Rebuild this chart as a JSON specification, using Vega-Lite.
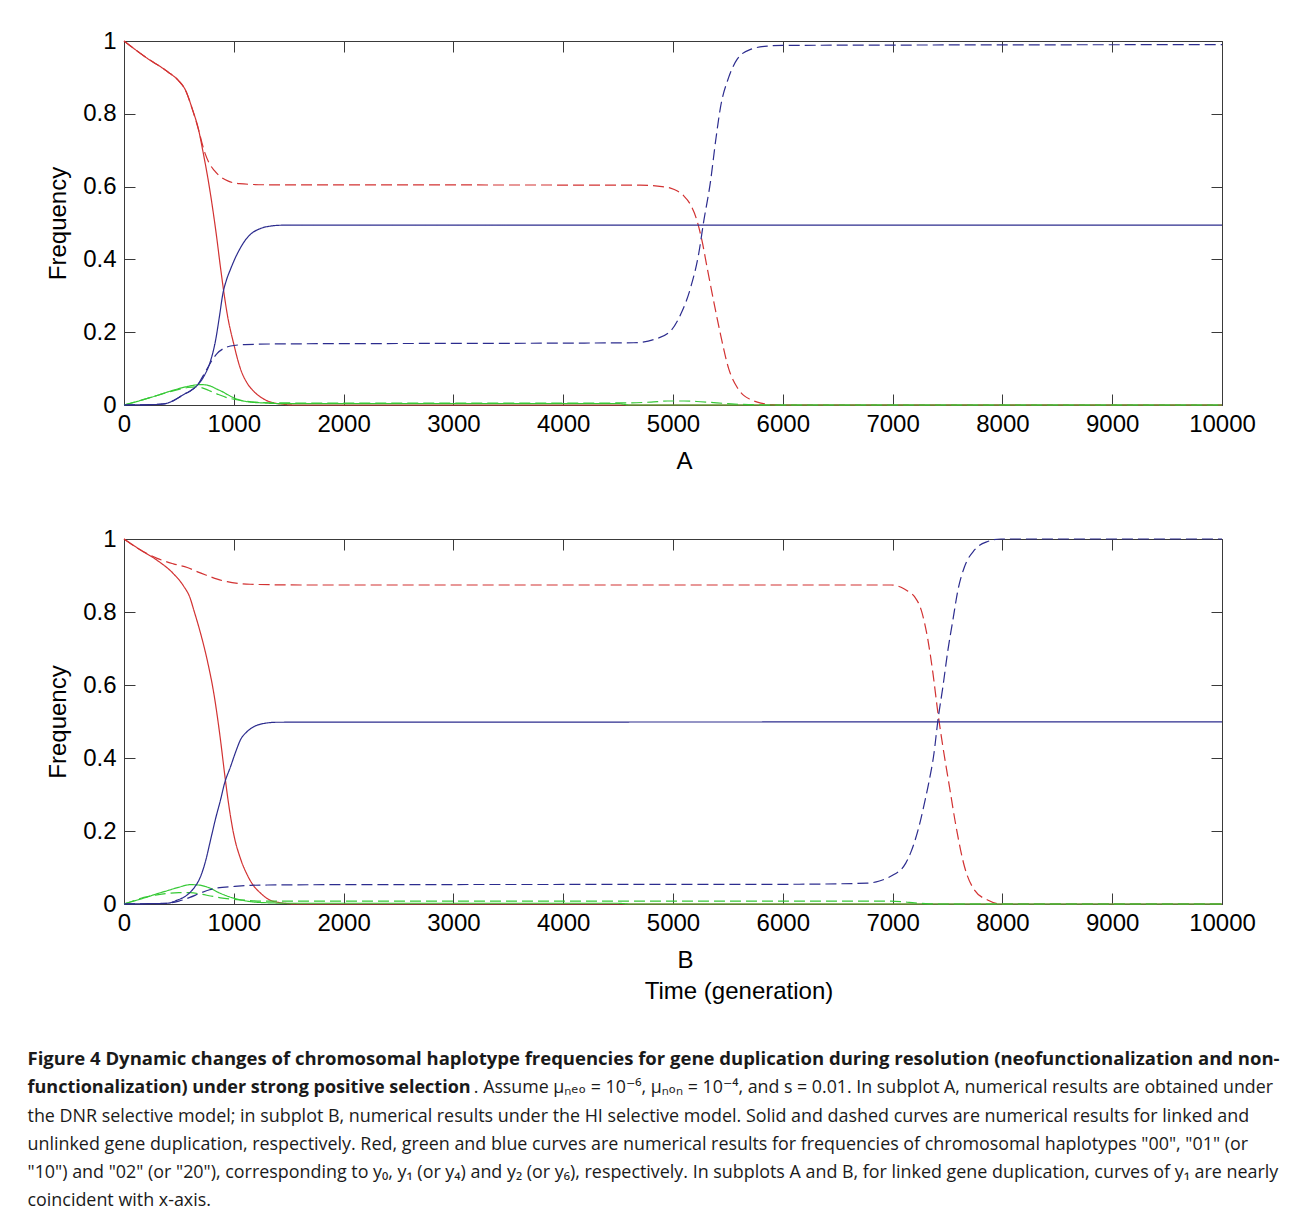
{
  "$schema": "https://vega.github.io/schema/vega-lite/v6.json",
  "background": "white",
  "padding": {"left": 27, "top": 28, "right": 0, "bottom": 0},
  "datasets": {
    "curves": [
      {"p":"A","c":"y0","k":"L","t":0,"f":1},{"p":"A","c":"y0","k":"L","t":200,"f":0.955},{"p":"A","c":"y0","k":"L","t":400,"f":0.915},{"p":"A","c":"y0","k":"L","t":500,"f":0.89},{"p":"A","c":"y0","k":"L","t":560,"f":0.865},{"p":"A","c":"y0","k":"L","t":620,"f":0.815},{"p":"A","c":"y0","k":"L","t":680,"f":0.755},{"p":"A","c":"y0","k":"L","t":720,"f":0.695},{"p":"A","c":"y0","k":"L","t":760,"f":0.63},{"p":"A","c":"y0","k":"L","t":800,"f":0.555},{"p":"A","c":"y0","k":"L","t":840,"f":0.47},{"p":"A","c":"y0","k":"L","t":880,"f":0.375},{"p":"A","c":"y0","k":"L","t":900,"f":0.33},{"p":"A","c":"y0","k":"L","t":940,"f":0.25},{"p":"A","c":"y0","k":"L","t":1000,"f":0.167},{"p":"A","c":"y0","k":"L","t":1060,"f":0.1},{"p":"A","c":"y0","k":"L","t":1122,"f":0.06},{"p":"A","c":"y0","k":"L","t":1180,"f":0.038},{"p":"A","c":"y0","k":"L","t":1243,"f":0.022},{"p":"A","c":"y0","k":"L","t":1300,"f":0.012},{"p":"A","c":"y0","k":"L","t":1362,"f":0.006},{"p":"A","c":"y0","k":"L","t":1450,"f":0.002},{"p":"A","c":"y0","k":"L","t":1550,"f":0},{"p":"A","c":"y0","k":"L","t":10000,"f":0},

      {"p":"A","c":"y0","k":"U","t":0,"f":1},{"p":"A","c":"y0","k":"U","t":200,"f":0.955},{"p":"A","c":"y0","k":"U","t":400,"f":0.915},{"p":"A","c":"y0","k":"U","t":500,"f":0.89},{"p":"A","c":"y0","k":"U","t":560,"f":0.865},{"p":"A","c":"y0","k":"U","t":620,"f":0.815},{"p":"A","c":"y0","k":"U","t":680,"f":0.755},{"p":"A","c":"y0","k":"U","t":710,"f":0.72},{"p":"A","c":"y0","k":"U","t":740,"f":0.69},{"p":"A","c":"y0","k":"U","t":775,"f":0.665},{"p":"A","c":"y0","k":"U","t":820,"f":0.645},{"p":"A","c":"y0","k":"U","t":880,"f":0.627},{"p":"A","c":"y0","k":"U","t":950,"f":0.615},{"p":"A","c":"y0","k":"U","t":1050,"f":0.608},{"p":"A","c":"y0","k":"U","t":1300,"f":0.605},{"p":"A","c":"y0","k":"U","t":4700,"f":0.604},{"p":"A","c":"y0","k":"U","t":4900,"f":0.6},{"p":"A","c":"y0","k":"U","t":4977,"f":0.596},{"p":"A","c":"y0","k":"U","t":5040,"f":0.588},{"p":"A","c":"y0","k":"U","t":5097,"f":0.575},{"p":"A","c":"y0","k":"U","t":5160,"f":0.55},{"p":"A","c":"y0","k":"U","t":5220,"f":0.505},{"p":"A","c":"y0","k":"U","t":5265,"f":0.45},{"p":"A","c":"y0","k":"U","t":5311,"f":0.377},{"p":"A","c":"y0","k":"U","t":5370,"f":0.286},{"p":"A","c":"y0","k":"U","t":5432,"f":0.195},{"p":"A","c":"y0","k":"U","t":5507,"f":0.1},{"p":"A","c":"y0","k":"U","t":5585,"f":0.048},{"p":"A","c":"y0","k":"U","t":5650,"f":0.025},{"p":"A","c":"y0","k":"U","t":5706,"f":0.015},{"p":"A","c":"y0","k":"U","t":5800,"f":0.005},{"p":"A","c":"y0","k":"U","t":5900,"f":0.001},{"p":"A","c":"y0","k":"U","t":6000,"f":0},{"p":"A","c":"y0","k":"U","t":10000,"f":0},

      {"p":"A","c":"y1","k":"L","t":0,"f":0},{"p":"A","c":"y1","k":"L","t":100,"f":0.008},{"p":"A","c":"y1","k":"L","t":200,"f":0.017},{"p":"A","c":"y1","k":"L","t":300,"f":0.026},{"p":"A","c":"y1","k":"L","t":400,"f":0.036},{"p":"A","c":"y1","k":"L","t":500,"f":0.045},{"p":"A","c":"y1","k":"L","t":580,"f":0.051},{"p":"A","c":"y1","k":"L","t":650,"f":0.055},{"p":"A","c":"y1","k":"L","t":700,"f":0.056},{"p":"A","c":"y1","k":"L","t":750,"f":0.055},{"p":"A","c":"y1","k":"L","t":788,"f":0.052},{"p":"A","c":"y1","k":"L","t":850,"f":0.043},{"p":"A","c":"y1","k":"L","t":900,"f":0.036},{"p":"A","c":"y1","k":"L","t":940,"f":0.029},{"p":"A","c":"y1","k":"L","t":1000,"f":0.02},{"p":"A","c":"y1","k":"L","t":1061,"f":0.013},{"p":"A","c":"y1","k":"L","t":1150,"f":0.008},{"p":"A","c":"y1","k":"L","t":1250,"f":0.006},{"p":"A","c":"y1","k":"L","t":1400,"f":0.004},{"p":"A","c":"y1","k":"L","t":4500,"f":0.004},{"p":"A","c":"y1","k":"L","t":4600,"f":0},{"p":"A","c":"y1","k":"L","t":10000,"f":0},

      {"p":"A","c":"y1","k":"U","t":0,"f":0},{"p":"A","c":"y1","k":"U","t":100,"f":0.008},{"p":"A","c":"y1","k":"U","t":200,"f":0.017},{"p":"A","c":"y1","k":"U","t":300,"f":0.026},{"p":"A","c":"y1","k":"U","t":400,"f":0.035},{"p":"A","c":"y1","k":"U","t":500,"f":0.043},{"p":"A","c":"y1","k":"U","t":580,"f":0.048},{"p":"A","c":"y1","k":"U","t":650,"f":0.05},{"p":"A","c":"y1","k":"U","t":700,"f":0.048},{"p":"A","c":"y1","k":"U","t":750,"f":0.043},{"p":"A","c":"y1","k":"U","t":788,"f":0.038},{"p":"A","c":"y1","k":"U","t":850,"f":0.03},{"p":"A","c":"y1","k":"U","t":940,"f":0.02},{"p":"A","c":"y1","k":"U","t":1000,"f":0.016},{"p":"A","c":"y1","k":"U","t":1100,"f":0.011},{"p":"A","c":"y1","k":"U","t":1200,"f":0.008},{"p":"A","c":"y1","k":"U","t":1400,"f":0.006},{"p":"A","c":"y1","k":"U","t":2000,"f":0.005},{"p":"A","c":"y1","k":"U","t":4000,"f":0.005},{"p":"A","c":"y1","k":"U","t":4600,"f":0.006},{"p":"A","c":"y1","k":"U","t":4800,"f":0.008},{"p":"A","c":"y1","k":"U","t":4950,"f":0.011},{"p":"A","c":"y1","k":"U","t":5100,"f":0.011},{"p":"A","c":"y1","k":"U","t":5250,"f":0.009},{"p":"A","c":"y1","k":"U","t":5400,"f":0.006},{"p":"A","c":"y1","k":"U","t":5530,"f":0.003},{"p":"A","c":"y1","k":"U","t":5700,"f":0.001},{"p":"A","c":"y1","k":"U","t":5850,"f":0},{"p":"A","c":"y1","k":"U","t":10000,"f":0},

      {"p":"A","c":"y2","k":"L","t":0,"f":0},{"p":"A","c":"y2","k":"L","t":250,"f":0.001},{"p":"A","c":"y2","k":"L","t":364,"f":0.003},{"p":"A","c":"y2","k":"L","t":450,"f":0.012},{"p":"A","c":"y2","k":"L","t":545,"f":0.029},{"p":"A","c":"y2","k":"L","t":610,"f":0.04},{"p":"A","c":"y2","k":"L","t":667,"f":0.054},{"p":"A","c":"y2","k":"L","t":730,"f":0.08},{"p":"A","c":"y2","k":"L","t":788,"f":0.121},{"p":"A","c":"y2","k":"L","t":833,"f":0.176},{"p":"A","c":"y2","k":"L","t":870,"f":0.245},{"p":"A","c":"y2","k":"L","t":900,"f":0.305},{"p":"A","c":"y2","k":"L","t":935,"f":0.345},{"p":"A","c":"y2","k":"L","t":970,"f":0.373},{"p":"A","c":"y2","k":"L","t":1015,"f":0.405},{"p":"A","c":"y2","k":"L","t":1061,"f":0.432},{"p":"A","c":"y2","k":"L","t":1105,"f":0.453},{"p":"A","c":"y2","k":"L","t":1152,"f":0.469},{"p":"A","c":"y2","k":"L","t":1220,"f":0.482},{"p":"A","c":"y2","k":"L","t":1304,"f":0.49},{"p":"A","c":"y2","k":"L","t":1450,"f":0.494},{"p":"A","c":"y2","k":"L","t":10000,"f":0.494},

      {"p":"A","c":"y2","k":"U","t":0,"f":0},{"p":"A","c":"y2","k":"U","t":250,"f":0.001},{"p":"A","c":"y2","k":"U","t":364,"f":0.003},{"p":"A","c":"y2","k":"U","t":450,"f":0.012},{"p":"A","c":"y2","k":"U","t":545,"f":0.029},{"p":"A","c":"y2","k":"U","t":610,"f":0.04},{"p":"A","c":"y2","k":"U","t":667,"f":0.054},{"p":"A","c":"y2","k":"U","t":697,"f":0.068},{"p":"A","c":"y2","k":"U","t":730,"f":0.085},{"p":"A","c":"y2","k":"U","t":758,"f":0.1},{"p":"A","c":"y2","k":"U","t":800,"f":0.122},{"p":"A","c":"y2","k":"U","t":849,"f":0.142},{"p":"A","c":"y2","k":"U","t":900,"f":0.154},{"p":"A","c":"y2","k":"U","t":970,"f":0.162},{"p":"A","c":"y2","k":"U","t":1100,"f":0.166},{"p":"A","c":"y2","k":"U","t":1500,"f":0.168},{"p":"A","c":"y2","k":"U","t":4000,"f":0.17},{"p":"A","c":"y2","k":"U","t":4640,"f":0.171},{"p":"A","c":"y2","k":"U","t":4827,"f":0.18},{"p":"A","c":"y2","k":"U","t":4977,"f":0.203},{"p":"A","c":"y2","k":"U","t":5070,"f":0.249},{"p":"A","c":"y2","k":"U","t":5160,"f":0.322},{"p":"A","c":"y2","k":"U","t":5233,"f":0.414},{"p":"A","c":"y2","k":"U","t":5280,"f":0.505},{"p":"A","c":"y2","k":"U","t":5342,"f":0.615},{"p":"A","c":"y2","k":"U","t":5388,"f":0.725},{"p":"A","c":"y2","k":"U","t":5432,"f":0.817},{"p":"A","c":"y2","k":"U","t":5507,"f":0.9},{"p":"A","c":"y2","k":"U","t":5585,"f":0.95},{"p":"A","c":"y2","k":"U","t":5706,"f":0.977},{"p":"A","c":"y2","k":"U","t":5858,"f":0.986},{"p":"A","c":"y2","k":"U","t":6000,"f":0.988},{"p":"A","c":"y2","k":"U","t":10000,"f":0.99},

      {"p":"B","c":"y0","k":"L","t":0,"f":1},{"p":"B","c":"y0","k":"L","t":150,"f":0.97},{"p":"B","c":"y0","k":"L","t":300,"f":0.942},{"p":"B","c":"y0","k":"L","t":450,"f":0.905},{"p":"B","c":"y0","k":"L","t":545,"f":0.87},{"p":"B","c":"y0","k":"L","t":600,"f":0.84},{"p":"B","c":"y0","k":"L","t":636,"f":0.805},{"p":"B","c":"y0","k":"L","t":697,"f":0.742},{"p":"B","c":"y0","k":"L","t":758,"f":0.668},{"p":"B","c":"y0","k":"L","t":818,"f":0.577},{"p":"B","c":"y0","k":"L","t":879,"f":0.449},{"p":"B","c":"y0","k":"L","t":915,"f":0.36},{"p":"B","c":"y0","k":"L","t":950,"f":0.28},{"p":"B","c":"y0","k":"L","t":1000,"f":0.19},{"p":"B","c":"y0","k":"L","t":1060,"f":0.125},{"p":"B","c":"y0","k":"L","t":1122,"f":0.08},{"p":"B","c":"y0","k":"L","t":1180,"f":0.05},{"p":"B","c":"y0","k":"L","t":1243,"f":0.03},{"p":"B","c":"y0","k":"L","t":1320,"f":0.012},{"p":"B","c":"y0","k":"L","t":1394,"f":0.005},{"p":"B","c":"y0","k":"L","t":1500,"f":0.001},{"p":"B","c":"y0","k":"L","t":1600,"f":0},{"p":"B","c":"y0","k":"L","t":10000,"f":0},

      {"p":"B","c":"y0","k":"U","t":0,"f":1},{"p":"B","c":"y0","k":"U","t":150,"f":0.97},{"p":"B","c":"y0","k":"U","t":302,"f":0.947},{"p":"B","c":"y0","k":"U","t":450,"f":0.932},{"p":"B","c":"y0","k":"U","t":576,"f":0.922},{"p":"B","c":"y0","k":"U","t":670,"f":0.91},{"p":"B","c":"y0","k":"U","t":758,"f":0.9},{"p":"B","c":"y0","k":"U","t":850,"f":0.89},{"p":"B","c":"y0","k":"U","t":940,"f":0.883},{"p":"B","c":"y0","k":"U","t":1050,"f":0.878},{"p":"B","c":"y0","k":"U","t":1150,"f":0.876},{"p":"B","c":"y0","k":"U","t":1608,"f":0.874},{"p":"B","c":"y0","k":"U","t":6986,"f":0.874},{"p":"B","c":"y0","k":"U","t":7077,"f":0.868},{"p":"B","c":"y0","k":"U","t":7140,"f":0.857},{"p":"B","c":"y0","k":"U","t":7200,"f":0.842},{"p":"B","c":"y0","k":"U","t":7261,"f":0.805},{"p":"B","c":"y0","k":"U","t":7322,"f":0.723},{"p":"B","c":"y0","k":"U","t":7367,"f":0.633},{"p":"B","c":"y0","k":"U","t":7413,"f":0.523},{"p":"B","c":"y0","k":"U","t":7458,"f":0.431},{"p":"B","c":"y0","k":"U","t":7518,"f":0.321},{"p":"B","c":"y0","k":"U","t":7578,"f":0.212},{"p":"B","c":"y0","k":"U","t":7655,"f":0.102},{"p":"B","c":"y0","k":"U","t":7746,"f":0.038},{"p":"B","c":"y0","k":"U","t":7865,"f":0.011},{"p":"B","c":"y0","k":"U","t":7990,"f":0},{"p":"B","c":"y0","k":"U","t":10000,"f":0},

      {"p":"B","c":"y1","k":"L","t":0,"f":0},{"p":"B","c":"y1","k":"L","t":100,"f":0.009},{"p":"B","c":"y1","k":"L","t":200,"f":0.018},{"p":"B","c":"y1","k":"L","t":300,"f":0.028},{"p":"B","c":"y1","k":"L","t":400,"f":0.037},{"p":"B","c":"y1","k":"L","t":500,"f":0.046},{"p":"B","c":"y1","k":"L","t":606,"f":0.053},{"p":"B","c":"y1","k":"L","t":680,"f":0.052},{"p":"B","c":"y1","k":"L","t":740,"f":0.048},{"p":"B","c":"y1","k":"L","t":788,"f":0.043},{"p":"B","c":"y1","k":"L","t":850,"f":0.033},{"p":"B","c":"y1","k":"L","t":920,"f":0.024},{"p":"B","c":"y1","k":"L","t":1000,"f":0.016},{"p":"B","c":"y1","k":"L","t":1100,"f":0.009},{"p":"B","c":"y1","k":"L","t":1200,"f":0.005},{"p":"B","c":"y1","k":"L","t":1350,"f":0.003},{"p":"B","c":"y1","k":"L","t":1500,"f":0.002},{"p":"B","c":"y1","k":"L","t":4500,"f":0.002},{"p":"B","c":"y1","k":"L","t":4600,"f":0},{"p":"B","c":"y1","k":"L","t":10000,"f":0},

      {"p":"B","c":"y1","k":"U","t":0,"f":0},{"p":"B","c":"y1","k":"U","t":100,"f":0.01},{"p":"B","c":"y1","k":"U","t":181,"f":0.018},{"p":"B","c":"y1","k":"U","t":300,"f":0.025},{"p":"B","c":"y1","k":"U","t":394,"f":0.029},{"p":"B","c":"y1","k":"U","t":500,"f":0.031},{"p":"B","c":"y1","k":"U","t":606,"f":0.031},{"p":"B","c":"y1","k":"U","t":700,"f":0.027},{"p":"B","c":"y1","k":"U","t":788,"f":0.022},{"p":"B","c":"y1","k":"U","t":880,"f":0.017},{"p":"B","c":"y1","k":"U","t":1000,"f":0.013},{"p":"B","c":"y1","k":"U","t":1120,"f":0.01},{"p":"B","c":"y1","k":"U","t":1243,"f":0.008},{"p":"B","c":"y1","k":"U","t":2000,"f":0.008},{"p":"B","c":"y1","k":"U","t":6986,"f":0.008},{"p":"B","c":"y1","k":"U","t":7100,"f":0.006},{"p":"B","c":"y1","k":"U","t":7200,"f":0.003},{"p":"B","c":"y1","k":"U","t":7300,"f":0.001},{"p":"B","c":"y1","k":"U","t":7400,"f":0},{"p":"B","c":"y1","k":"U","t":10000,"f":0},

      {"p":"B","c":"y2","k":"L","t":0,"f":0},{"p":"B","c":"y2","k":"L","t":250,"f":0.001},{"p":"B","c":"y2","k":"L","t":393,"f":0.002},{"p":"B","c":"y2","k":"L","t":480,"f":0.01},{"p":"B","c":"y2","k":"L","t":576,"f":0.025},{"p":"B","c":"y2","k":"L","t":640,"f":0.045},{"p":"B","c":"y2","k":"L","t":697,"f":0.075},{"p":"B","c":"y2","k":"L","t":745,"f":0.12},{"p":"B","c":"y2","k":"L","t":788,"f":0.175},{"p":"B","c":"y2","k":"L","t":835,"f":0.235},{"p":"B","c":"y2","k":"L","t":879,"f":0.285},{"p":"B","c":"y2","k":"L","t":915,"f":0.33},{"p":"B","c":"y2","k":"L","t":970,"f":0.376},{"p":"B","c":"y2","k":"L","t":1015,"f":0.415},{"p":"B","c":"y2","k":"L","t":1061,"f":0.45},{"p":"B","c":"y2","k":"L","t":1120,"f":0.472},{"p":"B","c":"y2","k":"L","t":1184,"f":0.486},{"p":"B","c":"y2","k":"L","t":1280,"f":0.495},{"p":"B","c":"y2","k":"L","t":1396,"f":0.498},{"p":"B","c":"y2","k":"L","t":10000,"f":0.499},

      {"p":"B","c":"y2","k":"U","t":0,"f":0},{"p":"B","c":"y2","k":"U","t":250,"f":0.001},{"p":"B","c":"y2","k":"U","t":393,"f":0.002},{"p":"B","c":"y2","k":"U","t":500,"f":0.008},{"p":"B","c":"y2","k":"U","t":600,"f":0.018},{"p":"B","c":"y2","k":"U","t":697,"f":0.03},{"p":"B","c":"y2","k":"U","t":780,"f":0.039},{"p":"B","c":"y2","k":"U","t":849,"f":0.044},{"p":"B","c":"y2","k":"U","t":1000,"f":0.048},{"p":"B","c":"y2","k":"U","t":1150,"f":0.051},{"p":"B","c":"y2","k":"U","t":1305,"f":0.052},{"p":"B","c":"y2","k":"U","t":2000,"f":0.053},{"p":"B","c":"y2","k":"U","t":6000,"f":0.054},{"p":"B","c":"y2","k":"U","t":6770,"f":0.057},{"p":"B","c":"y2","k":"U","t":6880,"f":0.063},{"p":"B","c":"y2","k":"U","t":6952,"f":0.071},{"p":"B","c":"y2","k":"U","t":7020,"f":0.082},{"p":"B","c":"y2","k":"U","t":7073,"f":0.093},{"p":"B","c":"y2","k":"U","t":7120,"f":0.112},{"p":"B","c":"y2","k":"U","t":7164,"f":0.14},{"p":"B","c":"y2","k":"U","t":7210,"f":0.18},{"p":"B","c":"y2","k":"U","t":7255,"f":0.23},{"p":"B","c":"y2","k":"U","t":7295,"f":0.283},{"p":"B","c":"y2","k":"U","t":7328,"f":0.33},{"p":"B","c":"y2","k":"U","t":7377,"f":0.413},{"p":"B","c":"y2","k":"U","t":7413,"f":0.504},{"p":"B","c":"y2","k":"U","t":7458,"f":0.595},{"p":"B","c":"y2","k":"U","t":7504,"f":0.696},{"p":"B","c":"y2","k":"U","t":7549,"f":0.778},{"p":"B","c":"y2","k":"U","t":7595,"f":0.86},{"p":"B","c":"y2","k":"U","t":7655,"f":0.924},{"p":"B","c":"y2","k":"U","t":7746,"f":0.97},{"p":"B","c":"y2","k":"U","t":7865,"f":0.993},{"p":"B","c":"y2","k":"U","t":7986,"f":1},{"p":"B","c":"y2","k":"U","t":10000,"f":1}
    ],
    "caption": [
      {"line":1,"w":"bold1","text":"Figure 4 Dynamic changes of chromosomal haplotype frequencies for gene duplication during resolution (neofunctionalization and non-"},
      {"line":2,"w":"bold","text":"functionalization) under strong positive selection"},
      {"line":2,"w":"tail","text":". Assume μₙₑₒ = 10⁻⁶, μₙₒₙ = 10⁻⁴, and s = 0.01. In subplot A, numerical results are obtained under"},
      {"line":3,"w":"regular","text":"the DNR selective model; in subplot B, numerical results under the HI selective model. Solid and dashed curves are numerical results for linked and"},
      {"line":4,"w":"regular","text":"unlinked gene duplication, respectively. Red, green and blue curves are numerical results for frequencies of chromosomal haplotypes \"00\", \"01\" (or"},
      {"line":5,"w":"regular","text":"\"10\") and \"02\" (or \"20\"), corresponding to y₀, y₁ (or y₄) and y₂ (or y₆), respectively. In subplots A and B, for linked gene duplication, curves of y₁ are nearly"},
      {"line":6,"w":"regular","text":"coincident with x-axis."}
    ]
  },
  "vconcat": [
    {
      "spacing": 52,
      "vconcat": [
        {
          "data": {"name": "curves"},
          "transform": [{"filter": "datum.p == 'A'"}],
          "width": 1098,
          "height": 364,
          "layer": [
            {
              "mark": {"type": "line", "strokeWidth": 1.2, "interpolate": "monotone"},
              "encoding": {
                "x": {"field": "t", "type": "quantitative", "scale": {"domain": [0, 10000], "nice": false},
                      "axis": {"values": [0,1000,2000,3000,4000,5000,6000,7000,8000,9000,10000], "format": "d", "title": "A", "titleX": 560}},
                "y": {"field": "f", "type": "quantitative", "scale": {"domain": [0, 1], "nice": false},
                      "axis": {"values": [0,0.2,0.4,0.6,0.8,1], "format": "~g", "title": "Frequency"}},
                "color": {"field": "c", "type": "nominal", "scale": {"domain": ["y0","y1","y2"], "range": ["#d23232","#36c936","#2c2c8e"]}, "legend": null},
                "strokeDash": {"field": "k", "type": "nominal", "scale": {"domain": ["L","U"], "range": [[1,0],[11,5]]}, "legend": null}
              }
            },
            {
              "mark": {"type": "point", "opacity": 0},
              "encoding": {
                "x": {"field": "t", "type": "quantitative", "axis": {"orient": "top", "labels": false, "title": null, "values": [0,1000,2000,3000,4000,5000,6000,7000,8000,9000,10000]}},
                "y": {"field": "f", "type": "quantitative", "axis": {"orient": "right", "labels": false, "title": null, "values": [0,0.2,0.4,0.6,0.8,1]}}
              }
            }
          ],
          "resolve": {"axis": {"x": "independent", "y": "independent"}}
        },
        {
          "data": {"name": "curves"},
          "transform": [{"filter": "datum.p == 'B'"}],
          "width": 1098,
          "height": 365,
          "title": {"text": "Time (generation)", "orient": "bottom", "anchor": "middle", "dx": 66, "offset": 8},
          "layer": [
            {
              "mark": {"type": "line", "strokeWidth": 1.2, "interpolate": "monotone"},
              "encoding": {
                "x": {"field": "t", "type": "quantitative", "scale": {"domain": [0, 10000], "nice": false},
                      "axis": {"values": [0,1000,2000,3000,4000,5000,6000,7000,8000,9000,10000], "format": "d", "title": "B", "titleX": 561}},
                "y": {"field": "f", "type": "quantitative", "scale": {"domain": [0, 1], "nice": false},
                      "axis": {"values": [0,0.2,0.4,0.6,0.8,1], "format": "~g", "title": "Frequency"}},
                "color": {"field": "c", "type": "nominal", "scale": {"domain": ["y0","y1","y2"], "range": ["#d23232","#36c936","#2c2c8e"]}, "legend": null},
                "strokeDash": {"field": "k", "type": "nominal", "scale": {"domain": ["L","U"], "range": [[1,0],[11,5]]}, "legend": null}
              }
            },
            {
              "mark": {"type": "point", "opacity": 0},
              "encoding": {
                "x": {"field": "t", "type": "quantitative", "axis": {"orient": "top", "labels": false, "title": null, "values": [0,1000,2000,3000,4000,5000,6000,7000,8000,9000,10000]}},
                "y": {"field": "f", "type": "quantitative", "axis": {"orient": "right", "labels": false, "title": null, "values": [0,0.2,0.4,0.6,0.8,1]}}
              }
            }
          ],
          "resolve": {"axis": {"x": "independent", "y": "independent"}}
        }
      ]
    },
    {
      "data": {"name": "caption"},
      "width": 1149,
      "height": {"step": 28.2},
      "view": {"stroke": null},
      "encoding": {"y": {"field": "line", "type": "ordinal", "axis": null}},
      "layer": [
        {
          "transform": [{"filter": "datum.w == 'bold1'"}],
          "mark": {"type": "text", "align": "left", "baseline": "alphabetic", "font": "Open Sans, DejaVu Sans, sans-serif", "fontSize": 18.5, "fontWeight": "bold", "color": "#1a1a1a", "dx": -96.5},
          "encoding": {"x": {"value": 0}, "text": {"field": "text"}}
        },
        {
          "transform": [{"filter": "datum.w == 'bold'"}],
          "mark": {"type": "text", "align": "left", "baseline": "alphabetic", "font": "Open Sans, DejaVu Sans, sans-serif", "fontSize": 18, "fontWeight": "bold", "color": "#1a1a1a", "dx": -96.5},
          "encoding": {"x": {"value": 0}, "text": {"field": "text"}}
        },
        {
          "transform": [{"filter": "datum.w == 'regular'"}],
          "mark": {"type": "text", "align": "left", "baseline": "alphabetic", "font": "Open Sans, DejaVu Sans, sans-serif", "fontSize": 17.9, "fontWeight": "normal", "color": "#1a1a1a", "dx": -96.5},
          "encoding": {"x": {"value": 0}, "text": {"field": "text"}}
        },
        {
          "transform": [{"filter": "datum.w == 'tail'"}],
          "mark": {"type": "text", "align": "right", "baseline": "alphabetic", "font": "Open Sans, DejaVu Sans, sans-serif", "fontSize": 17.8, "fontWeight": "normal", "color": "#1a1a1a", "dx": 0},
          "encoding": {"x": {"value": "width"}, "text": {"field": "text"}}
        }
      ]
    }
  ],
  "spacing": 45,
  "config": {
    "view": {"stroke": "#3a3a3a", "strokeWidth": 1},
    "axis": {
      "domain": false, "grid": false, "ticks": true, "tickSize": -11, "tickColor": "#3a3a3a", "tickWidth": 1,
      "labelFont": "Liberation Sans", "labelFontSize": 24, "labelColor": "#000", "labelFlush": false, "labelOverlap": false,
      "titleFont": "Liberation Sans", "titleFontSize": 24, "titleFontWeight": "normal", "titleColor": "#000"
    },
    "axisX": {"labelPadding": 18, "titlePadding": 13},
    "axisY": {"labelPadding": 19, "titlePadding": 12},
    "title": {"font": "Liberation Sans", "fontSize": 24, "fontWeight": "normal", "color": "#000"}
  }
}
